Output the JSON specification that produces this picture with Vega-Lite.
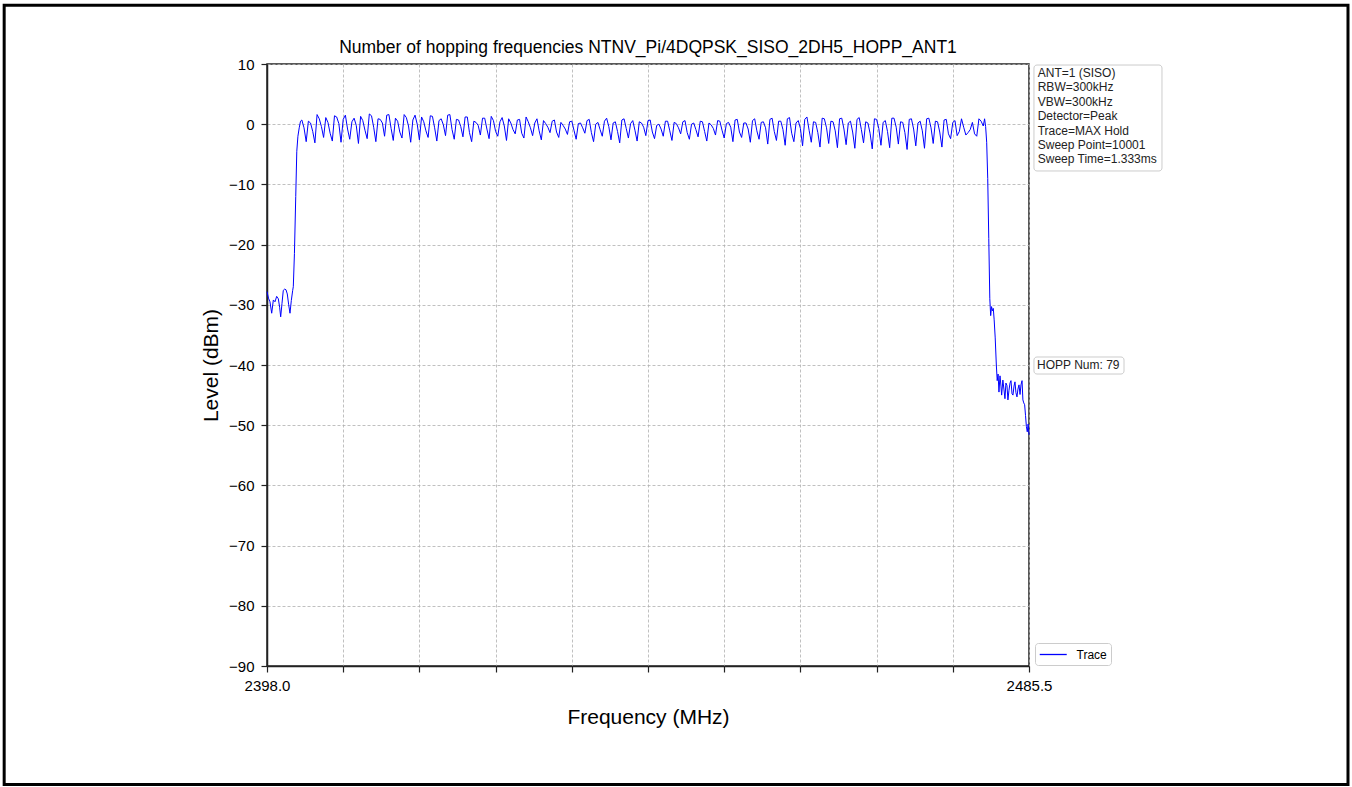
{
  "$schema": "https://vega.github.io/schema/vega-lite/v6.json",
  "width": 762,
  "height": 602,
  "autosize": {"type": "none"},
  "padding": {"left": 267, "top": 64, "right": 323, "bottom": 121},
  "background": "white",
  "config": {
    "font": "Liberation Sans",
    "view": {"stroke": "#222222", "strokeWidth": 1.5},
    "axis": {
      "grid": true,
      "gridColor": "#b0b0b0",
      "gridDash": [3, 2],
      "gridWidth": 0.8,
      "domainColor": "#222222",
      "domainWidth": 1.5,
      "tickColor": "#222222",
      "tickSize": 6,
      "tickWidth": 1.2,
      "labelFont": "Liberation Sans",
      "labelFontSize": 15,
      "labelColor": "#000000",
      "titleFont": "Liberation Sans",
      "titleFontSize": 21,
      "titleFontWeight": "normal",
      "titleColor": "#000000",
      "labelOverlap": false,
      "labelFlush": false
    }
  },
  "title": {
    "text": "Number of hopping frequencies NTNV_Pi/4DQPSK_SISO_2DH5_HOPP_ANT1",
    "font": "Liberation Sans",
    "fontSize": 17.5,
    "fontWeight": "normal",
    "color": "#000000",
    "anchor": "middle",
    "baseline": "alphabetic",
    "offset": 0,
    "dy": 66.5
  },
  "datasets": {
    "trace": [
      {"f": 2398.00, "v": -27.8}, {"f": 2398.17, "v": -28.9}, {"f": 2398.34, "v": -29.5}, {"f": 2398.54, "v": -31.4},
      {"f": 2398.73, "v": -29.2}, {"f": 2398.92, "v": -29.5}, {"f": 2399.11, "v": -28.6}, {"f": 2399.30, "v": -29.0},
      {"f": 2399.45, "v": -30.4}, {"f": 2399.57, "v": -32.0}, {"f": 2399.72, "v": -29.8}, {"f": 2399.87, "v": -27.6},
      {"f": 2400.02, "v": -27.4}, {"f": 2400.18, "v": -27.5}, {"f": 2400.33, "v": -28.2}, {"f": 2400.49, "v": -30.0},
      {"f": 2400.64, "v": -31.4}, {"f": 2400.79, "v": -29.3}, {"f": 2400.95, "v": -27.6}, {"f": 2401.02, "v": -27.0},
      {"f": 2401.15, "v": -21.5}, {"f": 2401.30, "v": -12.0}, {"f": 2401.42, "v": -4.5}, {"f": 2401.55, "v": -2.0},
      {"f": 2401.70, "v": -0.6}, {"f": 2401.85, "v": 0.5},
      {"f": 2402.00, "v": 0.7}, {"f": 2402.25, "v": -0.6}, {"f": 2402.50, "v": -2.9}, {"f": 2402.75, "v": 0.5},
      {"f": 2403.00, "v": 0.2}, {"f": 2403.25, "v": -1.2}, {"f": 2403.50, "v": -3.1}, {"f": 2403.75, "v": 1.6},
      {"f": 2404.00, "v": 0.9}, {"f": 2404.25, "v": -0.4}, {"f": 2404.50, "v": -2.2}, {"f": 2404.75, "v": 1.1},
      {"f": 2405.00, "v": 0.3}, {"f": 2405.25, "v": -1.5}, {"f": 2405.50, "v": -2.8}, {"f": 2405.75, "v": 1.4},
      {"f": 2406.00, "v": 1.2}, {"f": 2406.25, "v": 0.1}, {"f": 2406.50, "v": -3.0}, {"f": 2406.75, "v": 0.8},
      {"f": 2407.00, "v": 1.5}, {"f": 2407.25, "v": -0.8}, {"f": 2407.50, "v": -2.5}, {"f": 2407.75, "v": 0.4},
      {"f": 2408.00, "v": 1.0}, {"f": 2408.25, "v": -0.2}, {"f": 2408.50, "v": -3.2}, {"f": 2408.75, "v": 1.3},
      {"f": 2409.00, "v": 0.6}, {"f": 2409.25, "v": -1.0}, {"f": 2409.50, "v": -2.4}, {"f": 2409.75, "v": 1.7},
      {"f": 2410.00, "v": 1.4}, {"f": 2410.25, "v": -0.5}, {"f": 2410.50, "v": -2.9}, {"f": 2410.75, "v": 0.9},
      {"f": 2411.00, "v": 0.8}, {"f": 2411.25, "v": 0.2}, {"f": 2411.50, "v": -2.0}, {"f": 2411.75, "v": 1.5},
      {"f": 2412.00, "v": 1.6}, {"f": 2412.25, "v": -0.7}, {"f": 2412.50, "v": -2.7}, {"f": 2412.75, "v": 1.0},
      {"f": 2413.00, "v": 0.5}, {"f": 2413.25, "v": -1.3}, {"f": 2413.50, "v": -2.3}, {"f": 2413.75, "v": 1.6},
      {"f": 2414.00, "v": 1.1}, {"f": 2414.25, "v": -0.3}, {"f": 2414.50, "v": -3.0}, {"f": 2414.75, "v": 0.7},
      {"f": 2415.00, "v": 1.5}, {"f": 2415.25, "v": 0.0}, {"f": 2415.50, "v": -2.6}, {"f": 2415.75, "v": 1.2},
      {"f": 2416.00, "v": 0.4}, {"f": 2416.25, "v": -1.1}, {"f": 2416.50, "v": -2.2}, {"f": 2416.75, "v": 1.4},
      {"f": 2417.00, "v": 1.3}, {"f": 2417.25, "v": -0.6}, {"f": 2417.50, "v": -2.8}, {"f": 2417.75, "v": 0.6},
      {"f": 2418.00, "v": 0.9}, {"f": 2418.25, "v": -0.1}, {"f": 2418.50, "v": -1.9}, {"f": 2418.75, "v": 1.5},
      {"f": 2419.00, "v": 1.6}, {"f": 2419.25, "v": -0.9}, {"f": 2419.50, "v": -2.5}, {"f": 2419.75, "v": 0.8},
      {"f": 2420.00, "v": 0.7}, {"f": 2420.25, "v": -0.4}, {"f": 2420.50, "v": -2.1}, {"f": 2420.75, "v": 1.2},
      {"f": 2421.00, "v": 1.2}, {"f": 2421.25, "v": -1.4}, {"f": 2421.50, "v": -2.9}, {"f": 2421.75, "v": 0.5},
      {"f": 2422.00, "v": 0.3}, {"f": 2422.25, "v": -0.2}, {"f": 2422.50, "v": -1.8}, {"f": 2422.75, "v": 1.0},
      {"f": 2423.00, "v": 1.0}, {"f": 2423.25, "v": -0.8}, {"f": 2423.50, "v": -2.4}, {"f": 2423.75, "v": 1.3},
      {"f": 2424.00, "v": 0.6}, {"f": 2424.25, "v": -1.2}, {"f": 2424.50, "v": -2.0}, {"f": 2424.75, "v": 0.4},
      {"f": 2425.00, "v": 1.1}, {"f": 2425.25, "v": -0.3}, {"f": 2425.50, "v": -2.7}, {"f": 2425.75, "v": 0.9},
      {"f": 2426.00, "v": 0.2}, {"f": 2426.25, "v": -0.9}, {"f": 2426.50, "v": -1.6}, {"f": 2426.75, "v": 0.7},
      {"f": 2427.00, "v": 0.8}, {"f": 2427.25, "v": -1.5}, {"f": 2427.50, "v": -2.3}, {"f": 2427.75, "v": 1.2},
      {"f": 2428.00, "v": 0.4}, {"f": 2428.25, "v": -0.6}, {"f": 2428.50, "v": -1.9}, {"f": 2428.75, "v": 0.2},
      {"f": 2429.00, "v": 0.9}, {"f": 2429.25, "v": -1.1}, {"f": 2429.50, "v": -2.6}, {"f": 2429.75, "v": 0.6},
      {"f": 2430.00, "v": 0.1}, {"f": 2430.25, "v": -0.5}, {"f": 2430.50, "v": -1.4}, {"f": 2430.75, "v": 0.5},
      {"f": 2431.00, "v": 0.7}, {"f": 2431.25, "v": -1.3}, {"f": 2431.50, "v": -2.2}, {"f": 2431.75, "v": 0.3},
      {"f": 2432.00, "v": -0.2}, {"f": 2432.25, "v": -0.8}, {"f": 2432.50, "v": -1.7}, {"f": 2432.75, "v": 0.4},
      {"f": 2433.00, "v": 0.5}, {"f": 2433.25, "v": -1.0}, {"f": 2433.50, "v": -2.5}, {"f": 2433.75, "v": 0.1},
      {"f": 2434.00, "v": 0.2}, {"f": 2434.25, "v": -0.6}, {"f": 2434.50, "v": -1.5}, {"f": 2434.75, "v": 0.6},
      {"f": 2435.00, "v": 0.8}, {"f": 2435.25, "v": -1.4}, {"f": 2435.50, "v": -2.9}, {"f": 2435.75, "v": 0.0},
      {"f": 2436.00, "v": 0.3}, {"f": 2436.25, "v": -0.9}, {"f": 2436.50, "v": -2.0}, {"f": 2436.75, "v": 0.5},
      {"f": 2437.00, "v": 1.0}, {"f": 2437.25, "v": -0.4}, {"f": 2437.50, "v": -2.6}, {"f": 2437.75, "v": 0.2},
      {"f": 2438.00, "v": 0.4}, {"f": 2438.25, "v": -1.2}, {"f": 2438.50, "v": -3.1}, {"f": 2438.75, "v": 0.7},
      {"f": 2439.00, "v": 0.9}, {"f": 2439.25, "v": -0.7}, {"f": 2439.50, "v": -2.3}, {"f": 2439.75, "v": 0.1},
      {"f": 2440.00, "v": 0.6}, {"f": 2440.25, "v": -1.0}, {"f": 2440.50, "v": -2.8}, {"f": 2440.75, "v": 0.4},
      {"f": 2441.00, "v": 0.2}, {"f": 2441.25, "v": -0.5}, {"f": 2441.50, "v": -1.9}, {"f": 2441.75, "v": 0.6},
      {"f": 2442.00, "v": 0.7}, {"f": 2442.25, "v": -1.3}, {"f": 2442.50, "v": -2.4}, {"f": 2442.75, "v": -0.2},
      {"f": 2443.00, "v": 0.0}, {"f": 2443.25, "v": -0.8}, {"f": 2443.50, "v": -2.0}, {"f": 2443.75, "v": 0.5},
      {"f": 2444.00, "v": 0.5}, {"f": 2444.25, "v": -1.1}, {"f": 2444.50, "v": -2.7}, {"f": 2444.75, "v": 0.3},
      {"f": 2445.00, "v": 0.1}, {"f": 2445.25, "v": -0.6}, {"f": 2445.50, "v": -1.6}, {"f": 2445.75, "v": 0.4},
      {"f": 2446.00, "v": 0.6}, {"f": 2446.25, "v": -1.4}, {"f": 2446.50, "v": -2.5}, {"f": 2446.75, "v": 0.0},
      {"f": 2447.00, "v": 0.2}, {"f": 2447.25, "v": -0.9}, {"f": 2447.50, "v": -2.1}, {"f": 2447.75, "v": 0.5},
      {"f": 2448.00, "v": 0.4}, {"f": 2448.25, "v": -1.2}, {"f": 2448.50, "v": -2.8}, {"f": 2448.75, "v": 0.2},
      {"f": 2449.00, "v": -0.1}, {"f": 2449.25, "v": -0.7}, {"f": 2449.50, "v": -1.8}, {"f": 2449.75, "v": 0.6},
      {"f": 2450.00, "v": 0.5}, {"f": 2450.25, "v": -1.0}, {"f": 2450.50, "v": -2.3}, {"f": 2450.75, "v": 0.1},
      {"f": 2451.00, "v": 0.3}, {"f": 2451.25, "v": -0.5}, {"f": 2451.50, "v": -2.9}, {"f": 2451.75, "v": 0.7},
      {"f": 2452.00, "v": 0.8}, {"f": 2452.25, "v": -1.3}, {"f": 2452.50, "v": -2.2}, {"f": 2452.75, "v": 0.2},
      {"f": 2453.00, "v": 0.2}, {"f": 2453.25, "v": -0.8}, {"f": 2453.50, "v": -3.0}, {"f": 2453.75, "v": 0.6},
      {"f": 2454.00, "v": 0.9}, {"f": 2454.25, "v": -1.1}, {"f": 2454.50, "v": -2.5}, {"f": 2454.75, "v": 0.3},
      {"f": 2455.00, "v": 0.4}, {"f": 2455.25, "v": -0.6}, {"f": 2455.50, "v": -3.3}, {"f": 2455.75, "v": 0.8},
      {"f": 2456.00, "v": 1.0}, {"f": 2456.25, "v": -1.2}, {"f": 2456.50, "v": -2.7}, {"f": 2456.75, "v": 0.5},
      {"f": 2457.00, "v": 0.5}, {"f": 2457.25, "v": -0.9}, {"f": 2457.50, "v": -3.5}, {"f": 2457.75, "v": 0.9},
      {"f": 2458.00, "v": 1.1}, {"f": 2458.25, "v": -1.5}, {"f": 2458.50, "v": -2.9}, {"f": 2458.75, "v": 0.2},
      {"f": 2459.00, "v": 0.6}, {"f": 2459.25, "v": -0.7}, {"f": 2459.50, "v": -3.6}, {"f": 2459.75, "v": 0.8},
      {"f": 2460.00, "v": 1.2}, {"f": 2460.25, "v": -1.0}, {"f": 2460.50, "v": -3.0}, {"f": 2460.75, "v": 0.4},
      {"f": 2461.00, "v": 0.3}, {"f": 2461.25, "v": -1.4}, {"f": 2461.50, "v": -3.8}, {"f": 2461.75, "v": 1.0},
      {"f": 2462.00, "v": 0.9}, {"f": 2462.25, "v": -0.6}, {"f": 2462.50, "v": -3.2}, {"f": 2462.75, "v": 0.5},
      {"f": 2463.00, "v": 0.4}, {"f": 2463.25, "v": -1.1}, {"f": 2463.50, "v": -3.9}, {"f": 2463.75, "v": 0.9},
      {"f": 2464.00, "v": 1.0}, {"f": 2464.25, "v": -0.8}, {"f": 2464.50, "v": -3.4}, {"f": 2464.75, "v": 0.2},
      {"f": 2465.00, "v": 0.5}, {"f": 2465.25, "v": -1.3}, {"f": 2465.50, "v": -4.0}, {"f": 2465.75, "v": 0.8},
      {"f": 2466.00, "v": 1.1}, {"f": 2466.25, "v": -0.9}, {"f": 2466.50, "v": -3.1}, {"f": 2466.75, "v": 0.4},
      {"f": 2467.00, "v": 0.2}, {"f": 2467.25, "v": -1.5}, {"f": 2467.50, "v": -4.1}, {"f": 2467.75, "v": 0.9},
      {"f": 2468.00, "v": 0.8}, {"f": 2468.25, "v": -0.7}, {"f": 2468.50, "v": -3.5}, {"f": 2468.75, "v": 0.3},
      {"f": 2469.00, "v": 0.6}, {"f": 2469.25, "v": -1.2}, {"f": 2469.50, "v": -3.9}, {"f": 2469.75, "v": 1.0},
      {"f": 2470.00, "v": 1.0}, {"f": 2470.25, "v": -0.5}, {"f": 2470.50, "v": -3.3}, {"f": 2470.75, "v": 0.4},
      {"f": 2471.00, "v": 0.3}, {"f": 2471.25, "v": -1.4}, {"f": 2471.50, "v": -4.2}, {"f": 2471.75, "v": 0.8},
      {"f": 2472.00, "v": 0.9}, {"f": 2472.25, "v": -0.8}, {"f": 2472.50, "v": -3.6}, {"f": 2472.75, "v": 0.2},
      {"f": 2473.00, "v": 0.5}, {"f": 2473.25, "v": -1.1}, {"f": 2473.50, "v": -4.0}, {"f": 2473.75, "v": 0.9},
      {"f": 2474.00, "v": 1.0}, {"f": 2474.25, "v": -0.6}, {"f": 2474.50, "v": -3.2}, {"f": 2474.75, "v": 0.5},
      {"f": 2475.00, "v": 0.4}, {"f": 2475.25, "v": -1.3}, {"f": 2475.50, "v": -3.8}, {"f": 2475.75, "v": 0.7},
      {"f": 2476.00, "v": 0.8}, {"f": 2476.25, "v": -1.6}, {"f": 2476.50, "v": -2.4}, {"f": 2476.75, "v": 0.3},
      {"f": 2477.00, "v": 0.6}, {"f": 2477.25, "v": -1.9}, {"f": 2477.50, "v": -1.2}, {"f": 2477.75, "v": 0.9},
      {"f": 2478.00, "v": -0.5}, {"f": 2478.25, "v": -1.8}, {"f": 2478.50, "v": -1.4}, {"f": 2478.75, "v": -0.9},
      {"f": 2479.00, "v": 0.3}, {"f": 2479.25, "v": -1.6}, {"f": 2479.50, "v": -2.0}, {"f": 2479.75, "v": 0.9},
      {"f": 2480.00, "v": 0.5}, {"f": 2480.25, "v": -0.3}, {"f": 2480.40, "v": 0.9}, {"f": 2480.52, "v": -0.4},
      {"f": 2480.64, "v": -3.0}, {"f": 2480.76, "v": -9.0}, {"f": 2480.88, "v": -19.0}, {"f": 2481.00, "v": -29.0},
      {"f": 2481.10, "v": -31.8}, {"f": 2481.20, "v": -30.3}, {"f": 2481.30, "v": -31.0}, {"f": 2481.40, "v": -30.6},
      {"f": 2481.50, "v": -32.5}, {"f": 2481.62, "v": -35.5}, {"f": 2481.75, "v": -40.0}, {"f": 2481.85, "v": -42.6},
      {"f": 2481.95, "v": -41.5}, {"f": 2482.05, "v": -44.5}, {"f": 2482.17, "v": -41.8}, {"f": 2482.28, "v": -43.5},
      {"f": 2482.36, "v": -45.0}, {"f": 2482.50, "v": -42.5}, {"f": 2482.62, "v": -44.0}, {"f": 2482.74, "v": -45.6},
      {"f": 2482.85, "v": -43.0}, {"f": 2482.97, "v": -43.4}, {"f": 2483.08, "v": -45.8}, {"f": 2483.20, "v": -44.2},
      {"f": 2483.32, "v": -43.0}, {"f": 2483.43, "v": -42.6}, {"f": 2483.55, "v": -44.8}, {"f": 2483.66, "v": -45.0},
      {"f": 2483.78, "v": -43.5}, {"f": 2483.89, "v": -42.8}, {"f": 2484.00, "v": -44.6}, {"f": 2484.12, "v": -45.3},
      {"f": 2484.23, "v": -44.0}, {"f": 2484.35, "v": -43.3}, {"f": 2484.47, "v": -44.9}, {"f": 2484.58, "v": -43.3},
      {"f": 2484.70, "v": -42.6}, {"f": 2484.80, "v": -45.8}, {"f": 2484.90, "v": -46.3}, {"f": 2485.00, "v": -46.6},
      {"f": 2485.10, "v": -48.4}, {"f": 2485.20, "v": -50.2}, {"f": 2485.30, "v": -51.1}, {"f": 2485.40, "v": -49.8},
      {"f": 2485.50, "v": -51.6}
    ]
  },
  "layer": [
    {
      "data": {"name": "trace"},
      "mark": {"type": "line", "strokeWidth": 1, "interpolate": "linear"},
      "encoding": {
        "x": {
          "field": "f",
          "type": "quantitative",
          "scale": {"domain": [2398, 2485.5], "nice": false, "zero": false},
          "axis": {
            "title": "Frequency (MHz)",
            "values": [2398, 2406.75, 2415.5, 2424.25, 2433, 2441.75, 2450.5, 2459.25, 2468, 2476.75, 2485.5],
            "labelExpr": "datum.value == 2398 ? '2398.0' : (datum.value == 2485.5 ? '2485.5' : '')",
            "labelPadding": 6,
            "titlePadding": 13
          }
        },
        "y": {
          "field": "v",
          "type": "quantitative",
          "scale": {"domain": [-90, 10], "nice": false, "zero": false},
          "axis": {
            "title": "Level (dBm)",
            "values": [-90, -80, -70, -60, -50, -40, -30, -20, -10, 0, 10],
            "labelExpr": "replace(format(datum.value, 'd'), '-', '\u2212')",
            "labelPadding": 7,
            "titlePadding": 7
          }
        },
        "color": {
          "datum": "Trace",
          "type": "nominal",
          "scale": {"range": ["#0000ff"]},
          "legend": {
            "title": null,
            "orient": "none",
            "legendX": 768,
            "legendY": 579,
            "symbolType": "M-1,0H3",
            "symbolSize": 182,
            "symbolStrokeWidth": 1.3,
            "labelFont": "Liberation Sans",
            "labelFontSize": 12,
            "labelColor": "#000000",
            "labelOffset": 22.5,
            "padding": 4,
            "strokeColor": "#cccccc",
            "fillColor": "#ffffff",
            "cornerRadius": 3
          }
        }
      }
    },
    {
      "data": {"values": [{}]},
      "mark": {"type": "rect", "fill": "#ffffff", "fillOpacity": 0, "stroke": "#000000", "strokeWidth": 3, "clip": false},
      "encoding": {
        "x": {"datum": 2367.82, "type": "quantitative"},
        "x2": {"datum": 2522.13},
        "y": {"datum": 19.75, "type": "quantitative"},
        "y2": {"datum": -109.7}
      }
    },
    {
      "data": {"values": [{}]},
      "mark": {"type": "rect", "fill": "#ffffff", "stroke": "#cccccc", "strokeWidth": 1, "cornerRadius": 3, "clip": false},
      "encoding": {
        "x": {"datum": 2486.07, "type": "quantitative"},
        "x2": {"datum": 2500.77},
        "y": {"datum": 9.83, "type": "quantitative"},
        "y2": {"datum": -7.77}
      }
    },
    {
      "data": {"values": [{}]},
      "mark": {
        "type": "text",
        "text": ["ANT=1 (SISO)", "RBW=300kHz", "VBW=300kHz", "Detector=Peak", "Trace=MAX Hold", "Sweep Point=10001", "Sweep Time=1.333ms"],
        "align": "left",
        "baseline": "top",
        "font": "Liberation Sans",
        "fontSize": 12,
        "lineHeight": 14.4,
        "color": "#222222",
        "clip": false
      },
      "encoding": {
        "x": {"datum": 2486.5, "type": "quantitative"},
        "y": {"datum": 9.32, "type": "quantitative"}
      }
    },
    {
      "data": {"values": [{}]},
      "mark": {"type": "rect", "fill": "#ffffff", "stroke": "#cccccc", "strokeWidth": 1, "cornerRadius": 3, "clip": false},
      "encoding": {
        "x": {"datum": 2486.07, "type": "quantitative"},
        "x2": {"datum": 2496.41},
        "y": {"datum": -38.67, "type": "quantitative"},
        "y2": {"datum": -41.5}
      }
    },
    {
      "data": {"values": [{}]},
      "mark": {
        "type": "text",
        "text": "HOPP Num: 79",
        "align": "left",
        "baseline": "middle",
        "font": "Liberation Sans",
        "fontSize": 12,
        "color": "#222222",
        "clip": false
      },
      "encoding": {
        "x": {"datum": 2486.42, "type": "quantitative"},
        "y": {"datum": -40.08, "type": "quantitative"}
      }
    }
  ]
}
